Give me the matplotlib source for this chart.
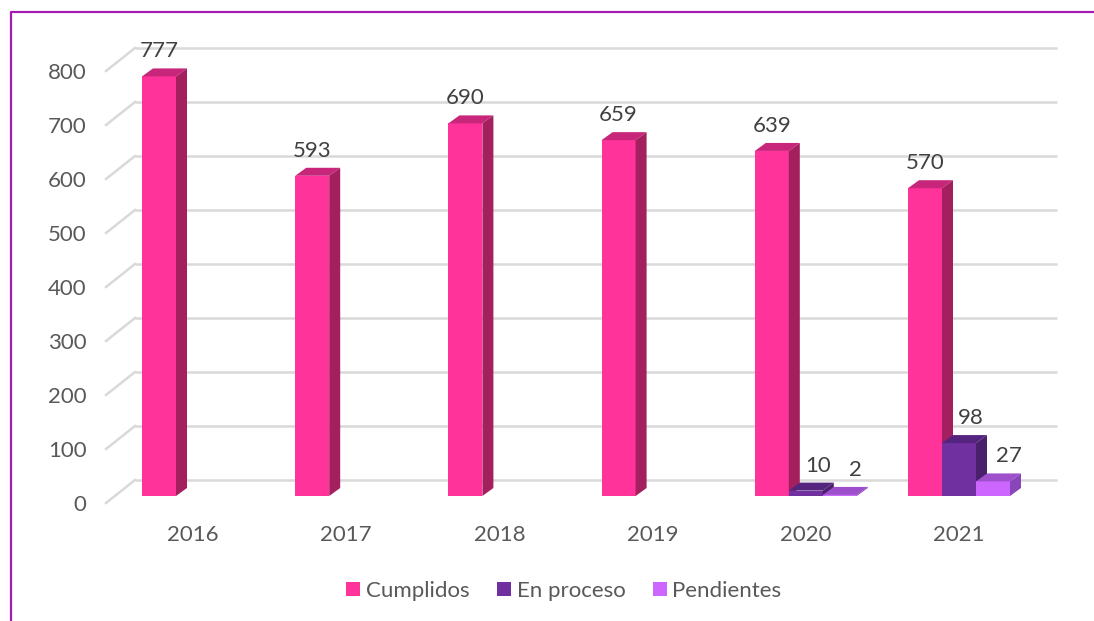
import matplotlib
matplotlib.use("Agg")
import matplotlib.pyplot as plt
from matplotlib.patches import Polygon
from matplotlib.lines import Line2D

# ---- data ----
years = ["2016", "2017", "2018", "2019", "2020", "2021"]
cumplidos = [777, 593, 690, 659, 639, 570]
en_proceso = [0, 0, 0, 0, 10, 98]
pendientes = [0, 0, 0, 0, 2, 27]
series_names = ["Cumplidos", "En proceso", "Pendientes"]
y_ticks = [0, 100, 200, 300, 400, 500, 600, 700, 800]

# ---- style ----
plt.rcParams['font.family'] = ['Lato', 'DejaVu Sans']
W, H = 1094, 621
fig = plt.figure(figsize=(W / 100, H / 100), dpi=100)
fig.patch.set_facecolor("white")

ax_l, ax_r, ax_t, ax_b = 106, 1057, 40, 510
ax = fig.add_axes([ax_l / W, (H - ax_b) / H, (ax_r - ax_l) / W, (ax_b - ax_t) / H])
ax.set_facecolor("none")

px_per_cat = 153.2
center0 = 193.0
px_per_val = 0.54
base_px = 496.0
xmin = (ax_l - center0) / px_per_cat
xmax = (ax_r - center0) / px_per_cat
ymin = (base_px - ax_b) / px_per_val
ymax = (base_px - ax_t) / px_per_val
ax.set_xlim(xmin, xmax)
ax.set_ylim(ymin, ymax)
for s in ax.spines.values():
    s.set_visible(False)

face = ["#FF3399", "#7030A0", "#CC66FF"]
top = ["#C7267B", "#55247F", "#9D4FCC"]
side = ["#A31F5E", "#4A1F6C", "#8846B8"]

bw = 34 / px_per_cat
ddx = 11 / px_per_cat
ddy = 8 / px_per_val
back_shift = 16 / px_per_val
front_shift = 7 / px_per_val
back_x = (135 - center0) / px_per_cat

# gridlines (back wall + floor diagonals)
grid_c = "#D9D9D9"
for v in y_ticks:
    ax.plot([back_x, xmax], [v + back_shift, v + back_shift], color=grid_c,
            lw=1.8, solid_capstyle="butt", zorder=1, clip_on=False)
    ax.plot([xmin, back_x], [v - front_shift, v + back_shift], color=grid_c,
            lw=1.8, zorder=1, clip_on=False)

all_series = [cumplidos, en_proceso, pendientes]
label_dx = [0, 12, 16]
fs = 16
z = 3
for i in range(len(years)):
    for k, vals in enumerate(all_series):
        v = vals[i]
        if v == 0:
            continue
        xc = i + (k - 1) * bw
        x0, x1 = xc - bw / 2, xc + bw / 2
        ax.bar(xc, v, width=bw, color=face[k], edgecolor="none", zorder=z)
        ax.add_patch(Polygon([(x0, v), (x1, v), (x1 + ddx, v + ddy), (x0 + ddx, v + ddy)],
                             closed=True, facecolor=top[k], edgecolor="none", zorder=z))
        ax.add_patch(Polygon([(x1, 0), (x1 + ddx, ddy), (x1 + ddx, v + ddy), (x1, v)],
                             closed=True, facecolor=side[k], edgecolor="none", zorder=z))
        ax.annotate(str(v), (xc, v), xytext=(label_dx[k] * 0.72, 25 * 0.72),
                    textcoords="offset points", ha="center", va="center",
                    fontsize=fs, color="#404040", zorder=10)
        z += 1

ax.set_yticks([v - front_shift for v in y_ticks])
ax.set_yticklabels([str(v) for v in y_ticks])
ax.set_xticks(list(range(len(years))))
ax.set_xticklabels(years)
ax.tick_params(axis="y", length=0, pad=14, labelsize=fs, labelcolor="#595959")
ax.tick_params(axis="x", length=0, pad=11, labelsize=fs, labelcolor="#595959")

handles = [plt.Rectangle((0, 0), 1, 1, facecolor=face[k], edgecolor="none") for k in range(3)]
fig.legend(handles, series_names, loc="center", bbox_to_anchor=(564 / W, (H - 591) / H),
           ncol=3, frameon=False, fontsize=fs, labelcolor="#595959",
           handlelength=0.62, handleheight=0.62, handletextpad=0.25, columnspacing=1.25)

# purple frame (left and top)
fc = "#A21CAF"
fig.add_artist(Line2D([11 / W, 11 / W, 1.0], [0.0, (H - 12) / H, (H - 12) / H],
                      color=fc, lw=1.6, transform=fig.transFigure))

fig.savefig("out.png", dpi=100)
